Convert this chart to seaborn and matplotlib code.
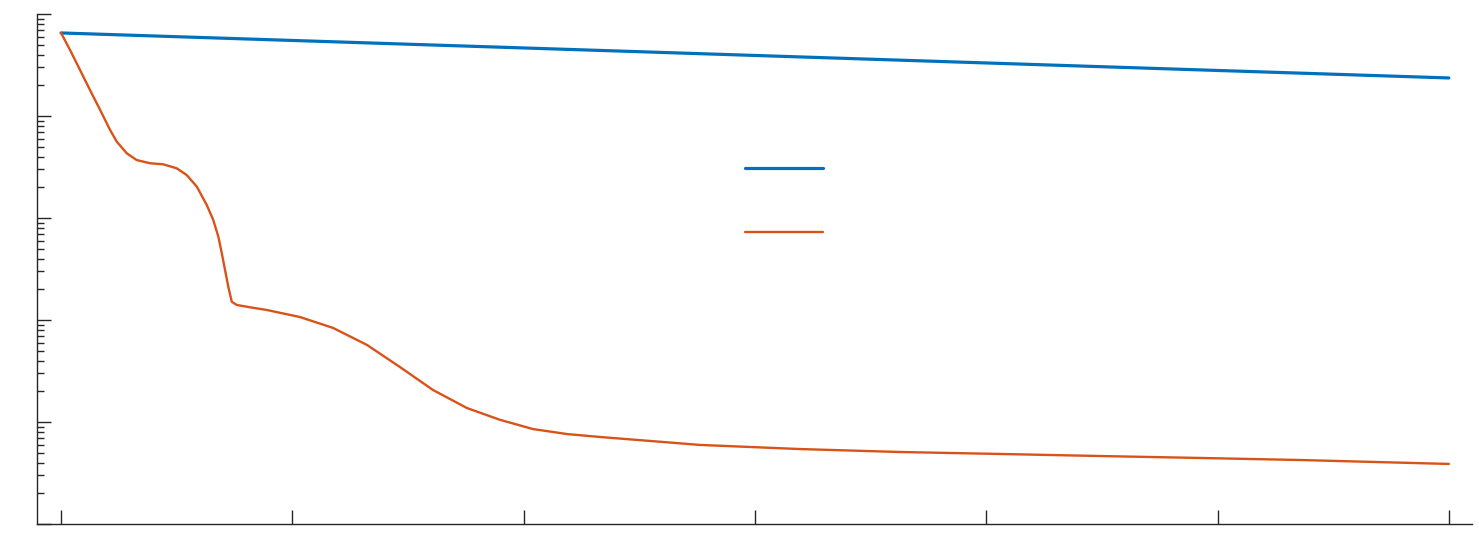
import numpy as np
import pandas as pd
import matplotlib
matplotlib.use("Agg")
import matplotlib.pyplot as plt
import seaborn as sns
from matplotlib.ticker import LogLocator, MultipleLocator, NullFormatter

# ======================================================
# DATA
# ======================================================

blue_iter = [0, 6000]
blue_loss = [0.652, 0.236]

orange_iter = [0, 39, 82, 125, 169, 212, 241, 284, 327, 385, 442, 500, 543,
               587, 630, 658, 680, 695, 709, 723, 738, 760, 817, 890, 1033,
               1176, 1323, 1465, 1608, 1755, 1898, 2040, 2187, 2330, 2546,
               2762, 3195, 3627, 4059, 4491, 4924, 5356, 6000]
orange_loss = [0.652, 0.4436, 0.2825, 0.1799, 0.1146, 0.0729, 0.0560, 0.0431,
               0.0370, 0.0344, 0.0336, 0.0307, 0.0264, 0.0203, 0.0134, 0.00956,
               0.00656, 0.00451, 0.00309, 0.00212, 0.00151, 0.001404, 0.001332,
               0.001253, 0.001069, 0.000836, 0.000569, 0.000346, 0.000206,
               0.000137, 0.000105, 8.53e-5, 7.62e-5, 7.13e-5, 6.52e-5, 5.96e-5,
               5.43e-5, 5.08e-5, 4.86e-5, 4.64e-5, 4.44e-5, 4.24e-5, 3.88e-5]

BLUE = "#0072BD"
ORANGE = "#D95319"

# ======================================================
# PLOT
# ======================================================

sns.set_style("ticks")
plt.rcParams["font.family"] = ["DejaVu Sans"]

fig = plt.figure(figsize=(14.79, 5.52), dpi=100)
ax = fig.add_axes([37 / 1479, 28 / 552, 1435 / 1479, 510 / 552])

df_blue = pd.DataFrame({"iter": blue_iter, "loss": blue_loss})
df_orange = pd.DataFrame({"iter": orange_iter, "loss": orange_loss})

sns.lineplot(data=df_blue, x="iter", y="loss", ax=ax, color=BLUE, lw=2.3)
sns.lineplot(data=df_orange, x="iter", y="loss", ax=ax, color=ORANGE, lw=1.7)

ax.set_yscale("log")
ax.set_ylim(1e-5, 1)
ax.set_xlim(-104, 6100)

ax.xaxis.set_major_locator(MultipleLocator(1000))
ax.yaxis.set_major_locator(LogLocator(base=10))
ax.yaxis.set_minor_locator(LogLocator(base=10, subs=np.arange(2, 10)))
ax.xaxis.set_major_formatter(NullFormatter())
ax.yaxis.set_major_formatter(NullFormatter())
ax.yaxis.set_minor_formatter(NullFormatter())

ax.set_xlabel("")
ax.set_ylabel("")

for side in ["top", "right"]:
    ax.spines[side].set_visible(False)
for side in ["left", "bottom"]:
    ax.spines[side].set_color("#262626")
    ax.spines[side].set_linewidth(1.0)

ax.tick_params(axis="both", which="major", direction="in", length=10,
               width=1.0, color="#262626")
ax.tick_params(axis="both", which="minor", direction="in", length=5,
               width=1.0, color="#262626")
ax.tick_params(axis="x", which="minor", bottom=False)

lines = ax.get_lines()[:2]
ax.legend(lines, ["", ""], loc="center left",
          bbox_to_anchor=((745 - 37) / 1435, (524 - 201) / 510),
          frameon=False, handlelength=5.6, labelspacing=3.6,
          borderpad=0, borderaxespad=0, handletextpad=0.5, fontsize=10)

fig.savefig("out.png", dpi=100)
plt.close(fig)
